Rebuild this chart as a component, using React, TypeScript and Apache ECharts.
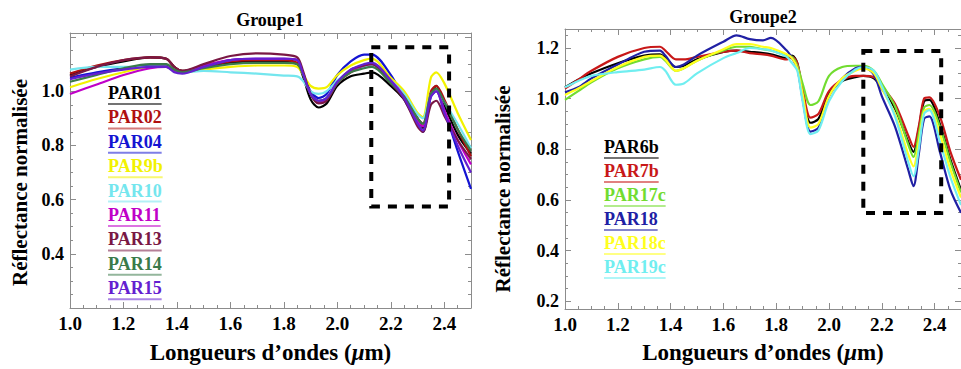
import React, { useEffect, useRef } from 'react';
import * as echarts from 'echarts';

// ---------- Groupe1 ----------
const wl1 = [1.0, 1.1, 1.2, 1.3, 1.36, 1.39, 1.42, 1.5, 1.6, 1.7, 1.8, 1.85, 1.87, 1.9, 1.93, 1.96, 2.0, 2.05, 2.1, 2.13, 2.2, 2.25, 2.3, 2.32, 2.35, 2.37, 2.4, 2.45, 2.5];
const names1 = ['PAR01', 'PAR02', 'PAR04', 'PAR9b', 'PAR10', 'PAR11', 'PAR13', 'PAR14', 'PAR15'];
const colors1 = ['#000000', '#b01010', '#1414d2', '#f2f200', '#74e6ee', '#c000c8', '#7a1844', '#3a7a4a', '#6420d0'];
const par01 = [1.06, 1.09, 1.11, 1.125, 1.12, 1.09, 1.075, 1.09, 1.105, 1.11, 1.11, 1.10, 1.06, 0.97, 0.94, 0.955, 1.02, 1.055, 1.065, 1.07, 1.02, 0.97, 0.90, 0.865, 0.99, 1.02, 0.95, 0.84, 0.77];
const par02 = [1.065, 1.095, 1.115, 1.125, 1.12, 1.09, 1.075, 1.09, 1.11, 1.115, 1.115, 1.105, 1.07, 0.99, 0.96, 0.97, 1.03, 1.07, 1.09, 1.095, 1.04, 0.985, 0.90, 0.88, 1.0, 1.02, 0.97, 0.86, 0.76];
const par04 = [1.05, 1.07, 1.085, 1.095, 1.095, 1.075, 1.07, 1.09, 1.115, 1.12, 1.12, 1.115, 1.07, 1.0, 0.975, 0.99, 1.06, 1.11, 1.135, 1.135, 1.06, 0.97, 0.88, 0.85, 0.98, 1.0, 0.93, 0.78, 0.64];
const par9b = [1.015, 1.045, 1.07, 1.09, 1.09, 1.075, 1.07, 1.08, 1.09, 1.095, 1.095, 1.09, 1.065, 1.02, 1.01, 1.015, 1.06, 1.095, 1.115, 1.12, 1.05, 1.0, 0.92, 0.905, 1.05, 1.07, 1.03, 0.92, 0.82];
const par10 = [1.08, 1.09, 1.09, 1.09, 1.09, 1.075, 1.07, 1.075, 1.07, 1.065, 1.058, 1.055, 1.04, 1.0, 0.99, 1.0, 1.04, 1.075, 1.09, 1.095, 1.04, 0.99, 0.915, 0.90, 0.99, 1.0, 0.96, 0.88, 0.79];
const par11 = [0.99, 1.025, 1.06, 1.085, 1.09, 1.075, 1.07, 1.095, 1.115, 1.12, 1.12, 1.115, 1.07, 0.99, 0.96, 0.97, 1.03, 1.075, 1.095, 1.10, 1.04, 0.98, 0.89, 0.87, 0.99, 1.0, 0.93, 0.82, 0.73];
const par13 = [1.055, 1.09, 1.115, 1.125, 1.12, 1.09, 1.075, 1.10, 1.13, 1.14, 1.135, 1.125, 1.08, 0.99, 0.955, 0.965, 1.03, 1.08, 1.095, 1.10, 1.03, 0.97, 0.87, 0.85, 0.95, 0.965, 0.91, 0.82, 0.75];
const par14 = [1.035, 1.06, 1.085, 1.10, 1.10, 1.08, 1.07, 1.085, 1.10, 1.105, 1.105, 1.10, 1.065, 0.99, 0.965, 0.975, 1.03, 1.07, 1.085, 1.09, 1.03, 0.98, 0.90, 0.88, 0.99, 1.01, 0.96, 0.86, 0.78];
const par15 = [1.045, 1.065, 1.08, 1.09, 1.09, 1.07, 1.065, 1.09, 1.115, 1.12, 1.12, 1.115, 1.07, 0.99, 0.965, 0.975, 1.035, 1.08, 1.10, 1.105, 1.04, 0.975, 0.88, 0.855, 0.98, 1.0, 0.92, 0.80, 0.70];
const values1 = [par01, par02, par04, par9b, par10, par11, par13, par14, par15];
const box1 = [2.127, 1.162, 2.418, 0.575];

// ---------- Groupe2 ----------
const wl2 = [1.0, 1.05, 1.1, 1.2, 1.3, 1.36, 1.38, 1.42, 1.45, 1.5, 1.6, 1.65, 1.7, 1.75, 1.78, 1.84, 1.86, 1.88, 1.9, 1.93, 1.96, 2.0, 2.05, 2.1, 2.13, 2.17, 2.2, 2.25, 2.3, 2.32, 2.34, 2.36, 2.38, 2.42, 2.46, 2.5];
const names2 = ['PAR6b', 'PAR7b', 'PAR17c', 'PAR18', 'PAR18c', 'PAR19c'];
const colors2 = ['#000000', '#c81818', '#72dc30', '#2020a4', '#ffff1e', '#70eef0'];
const par6b = [1.045, 1.075, 1.10, 1.14, 1.17, 1.175, 1.16, 1.125, 1.13, 1.155, 1.185, 1.19, 1.185, 1.18, 1.175, 1.16, 1.17, 1.14, 1.02, 0.905, 0.92, 1.02, 1.07, 1.085, 1.09, 1.08, 1.04, 0.96, 0.83, 0.79, 0.88, 0.99, 0.995, 0.90, 0.76, 0.64];
const par7b = [1.04, 1.075, 1.11, 1.165, 1.20, 1.205, 1.19, 1.155, 1.155, 1.165, 1.185, 1.19, 1.18, 1.175, 1.17, 1.155, 1.165, 1.14, 1.04, 0.925, 0.94, 1.03, 1.075, 1.09, 1.09, 1.085, 1.05, 0.98, 0.855, 0.81, 0.89, 1.0, 1.005, 0.93, 0.79, 0.68];
const par17c = [0.995, 1.03, 1.065, 1.12, 1.155, 1.165, 1.15, 1.11, 1.12, 1.15, 1.19, 1.205, 1.205, 1.195, 1.19, 1.17, 1.165, 1.13, 1.06, 0.975, 0.99, 1.09, 1.125, 1.13, 1.13, 1.11, 1.06, 0.97, 0.82, 0.77, 0.86, 0.965, 0.975, 0.89, 0.75, 0.63];
const par18 = [1.025, 1.045, 1.08, 1.135, 1.185, 1.19, 1.17, 1.125, 1.135, 1.17, 1.225, 1.25, 1.235, 1.23, 1.24, 1.19, 1.16, 1.12, 1.0, 0.87, 0.885, 1.01, 1.08, 1.12, 1.125, 1.095, 1.01, 0.89, 0.72, 0.655, 0.78, 0.92, 0.93, 0.79, 0.64, 0.55];
const par18c = [1.015, 1.04, 1.07, 1.125, 1.165, 1.17, 1.155, 1.11, 1.12, 1.15, 1.195, 1.215, 1.215, 1.205, 1.20, 1.175, 1.16, 1.12, 1.02, 0.886, 0.90, 1.01, 1.08, 1.11, 1.12, 1.10, 1.04, 0.94, 0.78, 0.733, 0.83, 0.95, 0.96, 0.86, 0.72, 0.61];
const par19c = [1.045, 1.07, 1.09, 1.105, 1.115, 1.125, 1.11, 1.055, 1.06, 1.10, 1.16, 1.18, 1.20, 1.195, 1.19, 1.165, 1.14, 1.11, 0.99, 0.86, 0.875, 0.99, 1.07, 1.115, 1.125, 1.11, 1.05, 0.93, 0.75, 0.694, 0.80, 0.94, 0.955, 0.83, 0.69, 0.58];
const values2 = [par6b, par7b, par17c, par18, par18c, par19c];
const box2 = [2.13, 1.188, 2.425, 0.549];

const xTicks = [1.0, 1.2, 1.4, 1.6, 1.8, 2.0, 2.2, 2.4];
const yTicks1 = [0.4, 0.6, 0.8, 1.0];
const yTicks2 = [0.2, 0.4, 0.6, 0.8, 1.0, 1.2];

const FONT = '"Liberation Serif", "Times New Roman", serif';
const AXIS_GRAY = '#8c8c8c';

function App() {
  const ref = useRef<HTMLDivElement>(null);

  useEffect(() => {
    document.body.style.margin = '0';
    document.body.style.overflow = 'hidden';
    if (!ref.current) return;
    const chart = echarts.init(ref.current, undefined, { renderer: 'svg' });

    const inList = (list: number[]) => (v: number) => {
      const hit = list.find((t) => Math.abs(t - v) < 1e-6);
      return hit !== undefined ? hit.toFixed(1) : '';
    };

    const baseAxis = (extra: any) => ({
      axisLine: { show: true, onZero: false, lineStyle: { color: AXIS_GRAY, width: 1 } },
      axisTick: { show: true, inside: true, length: 6, lineStyle: { color: AXIS_GRAY } },
      minorTick: { show: true, splitNumber: 4, length: 3, lineStyle: { color: AXIS_GRAY } },
      splitLine: { show: false },
      minorSplitLine: { show: false },
      ...extra,
    });

    const xName = 'Longueurs d\u2019ondes ({i|\u03bc}m)';
    const xNameStyle = {
      fontFamily: FONT, fontWeight: 'bold', fontSize: 23, color: '#000',
      rich: { i: { fontFamily: FONT, fontWeight: 'bold', fontStyle: 'italic', fontSize: 23, color: '#000' } },
    };
    const yNameStyle = (shift: number) => ({ fontFamily: FONT, fontWeight: 'bold', fontSize: 21, color: '#000', padding: [0, shift, 0, 0] });
    const xLabel = { fontFamily: FONT, fontWeight: 'bold', fontSize: 19, color: '#000', margin: 6, formatter: inList(xTicks), showMaxLabel: false };

    const xAxes = [
      baseAxis({ type: 'value', gridIndex: 0, position: 'bottom', min: 1.0, max: 2.5, interval: 0.2,
        axisLabel: xLabel, name: xName, nameLocation: 'middle', nameGap: 33, nameTextStyle: xNameStyle }),
      baseAxis({ type: 'value', gridIndex: 0, position: 'top', min: 1.0, max: 2.5, interval: 0.2, axisLabel: { show: false } }),
      baseAxis({ type: 'value', gridIndex: 1, position: 'bottom', min: 1.0, max: 2.5, interval: 0.2,
        axisLabel: xLabel, name: xName, nameLocation: 'middle', nameGap: 32, nameTextStyle: xNameStyle }),
      baseAxis({ type: 'value', gridIndex: 1, position: 'top', min: 1.0, max: 2.5, interval: 0.2, axisLabel: { show: false } }),
    ];
    const yAxes = [
      baseAxis({ type: 'value', gridIndex: 0, position: 'left', min: 0.2, max: 1.215, interval: 0.2,
        axisLabel: { fontFamily: FONT, fontWeight: 'bold', fontSize: 18, color: '#000', margin: 6, formatter: inList(yTicks1) },
        name: 'R\u00e9flectance normalis\u00e9e', nameLocation: 'middle', nameGap: 40, nameTextStyle: yNameStyle(24) }),
      baseAxis({ type: 'value', gridIndex: 0, position: 'right', min: 0.2, max: 1.215, interval: 0.2, axisLabel: { show: false } }),
      baseAxis({ type: 'value', gridIndex: 1, position: 'left', min: 0.17, max: 1.275,
        axisLabel: { fontFamily: FONT, fontWeight: 'bold', fontSize: 18, color: '#000', margin: 6, formatter: inList(yTicks2), showMinLabel: false, showMaxLabel: false },
        name: 'R\u00e9flectance normalis\u00e9e', nameLocation: 'middle', nameGap: 52, nameTextStyle: yNameStyle(40) }),
      baseAxis({ type: 'value', gridIndex: 1, position: 'right', min: 0.17, max: 1.275, axisLabel: { show: false } }),
    ];

    const boxStyle = { color: 'rgba(0,0,0,0)', borderColor: '#000', borderWidth: 4, borderType: [9, 8] };

    const makeSeries = (names: string[], colors: string[], vals: number[][], wl: number[], xi: number, yi: number, box: number[]) =>
      names.map((n, k) => ({
        type: 'line', name: n, xAxisIndex: xi, yAxisIndex: yi,
        data: wl.map((w, i) => [w, vals[k][i]]),
        showSymbol: false, symbol: 'none', smooth: 0.3,
        lineStyle: { color: colors[k], width: 2.2 }, itemStyle: { color: colors[k] },
        z: 2 + k * 0.01,
        ...(k === names.length - 1
          ? {
              markArea: {
                silent: true, z: 10,
                itemStyle: boxStyle,
                data: [[{ coord: [box[0], box[1]] }, { coord: [box[2], box[3]] }]],
              },
            }
          : {}),
      }));

    const ctx = document.createElement('canvas').getContext('2d')!;
    const legendFont = `bold 18px ${FONT}`;
    ctx.font = legendFont;
    const legend = (names: string[], colors: string[], x: number, y0: number, dy: number) =>
      names.flatMap((n, k) => {
        const y = y0 + k * dy;
        const w = ctx.measureText(n).width;
        return [
          { type: 'text', x, y, style: { text: n, fill: colors[k], font: legendFont, verticalAlign: 'middle', align: 'left' } },
          { type: 'line', shape: { x1: x, y1: y + 11, x2: x + w, y2: y + 11 }, style: { stroke: colors[k], lineWidth: 2, opacity: 0.55 } },
        ];
      });

    chart.setOption({
      animation: false,
      backgroundColor: '#fff',
      title: [
        { text: 'Groupe1', left: 270, top: 11, textAlign: 'center', padding: 0,
          textStyle: { fontFamily: FONT, fontWeight: 'bold', fontSize: 18, color: '#000' } },
        { text: 'Groupe2', left: 763, top: 8, textAlign: 'center', padding: 0,
          textStyle: { fontFamily: FONT, fontWeight: 'bold', fontSize: 18, color: '#000' } },
      ],
      grid: [
        { left: 70, top: 33, width: 401, height: 282, containLabel: false },
        { left: 565, top: 29, width: 402, height: 282, containLabel: false },
      ],
      xAxis: xAxes,
      yAxis: yAxes,
      series: [
        ...makeSeries(names1, colors1, values1, wl1, 0, 0, box1),
        ...makeSeries(names2, colors2, values2, wl2, 2, 2, box2),
      ],
      graphic: [
        ...legend(names1, colors1, 108, 93, 24.4),
        ...legend(names2, colors2, 604, 147, 24),
      ],
    });

    return () => chart.dispose();
  }, []);

  return <div ref={ref} style={{ width: 961, height: 369 }} />;
}

export default App;
